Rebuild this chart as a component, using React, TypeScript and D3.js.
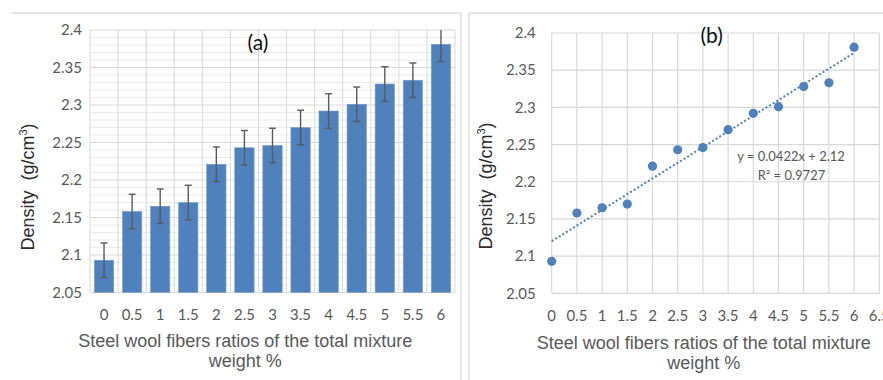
import React from "react";
import * as d3 from "d3";

const categories = ["0", "0.5", "1", "1.5", "2", "2.5", "3", "3.5", "4", "4.5", "5", "5.5", "6"];
const ratios = [0, 0.5, 1, 1.5, 2, 2.5, 3, 3.5, 4, 4.5, 5, 5.5, 6];
const density = [2.093, 2.158, 2.165, 2.170, 2.221, 2.243, 2.246, 2.270, 2.292, 2.301, 2.328, 2.333, 2.381];
const errors = [0.023, 0.023, 0.023, 0.023, 0.023, 0.023, 0.023, 0.023, 0.023, 0.023, 0.023, 0.023, 0.023];
const yTicks = [2.05, 2.1, 2.15, 2.2, 2.25, 2.3, 2.35, 2.4];
const xTicksB = [0, 0.5, 1, 1.5, 2, 2.5, 3, 3.5, 4, 4.5, 5, 5.5, 6, 6.5];
const trendSlope = 0.0422;
const trendIntercept = 2.12;
const trendRange = [0, 6];
const eqText = "y = 0.0422x + 2.12";
const r2Text = "R² = 0.9727";

const BLUE = "#4f81bd";
const GRID = "#d9d9d9";
const MINOR = "#ececec";
const TXT = "#595959";
const TICKFONT = "Lato, 'Open Sans', sans-serif";
const TITLEFONT = "'Liberation Sans', Arial, sans-serif";

function YTitle({ x, y }: { x: number; y: number }) {
  return (
    <text
      transform={`translate(${x},${y}) rotate(-90)`}
      textAnchor="middle"
      fontFamily={TITLEFONT}
      fontSize={18}
      fill="#2b2b2b"
      style={{ whiteSpace: "pre" }}
    >
      {"Density  (g/cm"}
      <tspan dy={-7} fontSize={11}>3</tspan>
      <tspan dy={7}>)</tspan>
    </text>
  );
}

function XTitle({ cx, y1 }: { cx: number; y1: number }) {
  return (
    <g fontFamily={TITLEFONT} fontSize={18} fill={TXT} textAnchor="middle">
      <text x={cx} y={y1}>Steel wool fibers ratios of the total mixture</text>
      <text x={cx} y={y1 + 20}>weight %</text>
    </g>
  );
}

function ChartA() {
  const left = 90, right = 455, top = 30, bottom = 292.5;
  const x = d3.scaleBand<string>().domain(categories).range([left, right]).paddingInner(0.31).paddingOuter(0.155);
  const y = d3.scaleLinear().domain([2.05, 2.4]).range([bottom, top]);
  const minorTicks = d3.range(205, 241, 1).map((v) => v / 100).filter((v) => Math.round(v * 100) % 5 !== 0);
  const step = x.step();
  return (
    <g>
      {minorTicks.map((t) => (
        <line key={"m" + t} x1={left} x2={right} y1={y(t)} y2={y(t)} stroke={MINOR} strokeWidth={1} />
      ))}
      {categories.map((c, i) => (
        <line key={"v" + c} x1={left + i * step} x2={left + i * step} y1={top} y2={bottom} stroke={GRID} strokeWidth={1} />
      ))}
      <line x1={right} x2={right} y1={top} y2={bottom} stroke={GRID} strokeWidth={1} />
      {yTicks.map((t) => (
        <line key={"h" + t} x1={left} x2={right} y1={y(t)} y2={y(t)} stroke={GRID} strokeWidth={1.2} />
      ))}
      {categories.map((c, i) => (
        <rect
          key={"b" + c}
          x={x(c)!}
          y={y(density[i])}
          width={x.bandwidth()}
          height={bottom - y(density[i])}
          fill={BLUE}
          stroke="#7a9fd0"
          strokeWidth={0.6}
        />
      ))}
      {categories.map((c, i) => {
        const cx = x(c)! + x.bandwidth() / 2;
        const yt = y(Math.min(2.4, density[i] + errors[i]));
        const yb = y(density[i] - errors[i]);
        return (
          <g key={"e" + c} stroke="#5a5a5a" strokeWidth={1.4}>
            <line x1={cx} x2={cx} y1={yt} y2={yb} />
            {density[i] + errors[i] <= 2.4 && <line x1={cx - 3.5} x2={cx + 3.5} y1={yt} y2={yt} />}
            <line x1={cx - 3.5} x2={cx + 3.5} y1={yb} y2={yb} />
          </g>
        );
      })}
      {yTicks.map((t) => (
        <text key={"yl" + t} x={82} y={y(t) + 5.3} textAnchor="end" fontFamily={TICKFONT} fontSize={15} fill={TXT}>
          {String(t)}
        </text>
      ))}
      {categories.map((c) => (
        <text key={"xl" + c} x={x(c)! + x.bandwidth() / 2} y={319.5} textAnchor="middle" fontFamily={TICKFONT} fontSize={15} fill={TXT}>
          {c}
        </text>
      ))}
      <text x={258} y={50} textAnchor="middle" fontFamily={TICKFONT} fontSize={21} fill="#111">(a)</text>
      <YTitle x={34} y={187} />
      <XTitle cx={245.3} y1={347} />
    </g>
  );
}

function ChartB() {
  const left = 551.7, right = 879.3, top = 33, bottom = 293.3;
  const x = d3.scaleLinear().domain([0, 6.5]).range([left, right]);
  const y = d3.scaleLinear().domain([2.05, 2.4]).range([bottom, top]);
  const trend = d3
    .line<number>()
    .x((v) => x(v))
    .y((v) => y(trendSlope * v + trendIntercept));
  return (
    <g>
      {xTicksB.map((t) => (
        <line key={"v" + t} x1={x(t)} x2={x(t)} y1={top} y2={bottom} stroke={GRID} strokeWidth={1.2} />
      ))}
      {yTicks.map((t) => (
        <line key={"h" + t} x1={left} x2={right} y1={y(t)} y2={y(t)} stroke={GRID} strokeWidth={1.2} />
      ))}
      <path d={trend(trendRange)!} fill="none" stroke={BLUE} strokeWidth={2} strokeDasharray="2 2.2" />
      {ratios.map((r, i) => (
        <circle key={"p" + r} cx={x(r)} cy={y(density[i])} r={4.6} fill={BLUE} />
      ))}
      {yTicks.map((t) => (
        <text key={"yl" + t} x={535.7} y={y(t) + 5.3} textAnchor="end" fontFamily={TICKFONT} fontSize={15} fill={TXT}>
          {String(t)}
        </text>
      ))}
      {xTicksB.map((t) => (
        <text key={"xl" + t} x={x(t)} y={320.5} textAnchor="middle" fontFamily={TICKFONT} fontSize={15} fill={TXT}>
          {String(t)}
        </text>
      ))}
      <text x={711.7} y={43} textAnchor="middle" fontFamily={TICKFONT} fontSize={21} fill="#111">(b)</text>
      <text x={791} y={161} textAnchor="middle" fontFamily={TICKFONT} fontSize={13} fill={TXT}>{eqText}</text>
      <text x={791.5} y={180} textAnchor="middle" fontFamily={TICKFONT} fontSize={13} fill={TXT}>{r2Text}</text>
      <YTitle x={492} y={186} />
      <XTitle cx={703.8} y1={348.5} />
    </g>
  );
}

export default function App() {
  return (
    <svg
      width={883}
      height={380}
      viewBox="0 0 883 380"
      style={{ position: "absolute", left: 0, top: 0, background: "#fff" }}
    >
      <rect x={0} y={0} width={883} height={380} fill="#fff" />
      <g stroke="#dcdcdc" strokeWidth={1.5} fill="none">
        <line x1={11} x2={461} y1={13} y2={13} />
        <line x1={461} x2={461} y1={13} y2={380} />
        <line x1={469} x2={883} y1={13} y2={13} />
        <line x1={469} x2={469} y1={13} y2={380} />
      </g>
      <ChartA />
      <ChartB />
    </svg>
  );
}
